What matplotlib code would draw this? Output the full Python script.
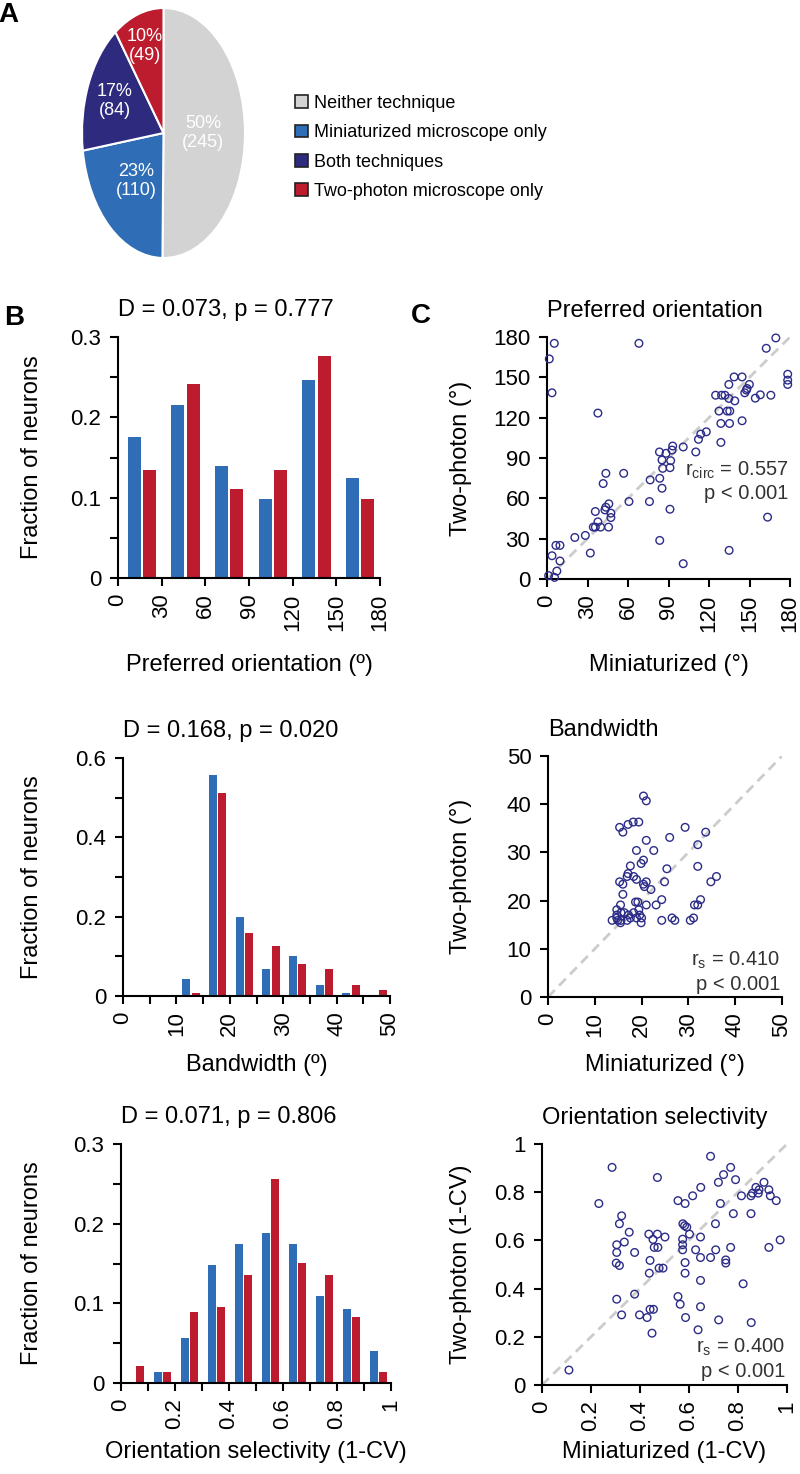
import matplotlib
matplotlib.use('Agg')
import matplotlib.pyplot as plt
from matplotlib.patches import Patch
from matplotlib.ticker import MultipleLocator
from matplotlib import font_manager
import numpy as np

plt.rcParams['font.family'] = ['Liberation Sans', 'DejaVu Sans']
plt.rcParams['mathtext.fontset'] = 'custom'
plt.rcParams['mathtext.rm'] = 'Liberation Sans'
plt.rcParams['mathtext.it'] = 'Liberation Sans:italic'

# ---------------- data ----------------
pie_labels = ['Neither technique', 'Miniaturized microscope only',
              'Both techniques', 'Two-photon microscope only']
pie_counts = [245, 110, 84, 49]

ori_edges = [0, 30, 60, 90, 120, 150, 180]
ori_mini = [0.176, 0.215, 0.140, 0.098, 0.247, 0.124]
ori_two = [0.134, 0.241, 0.111, 0.134, 0.276, 0.098]

bw_edges = [0, 5, 10, 15, 20, 25, 30, 35, 40, 45, 50]
bw_mini = [0, 0, 0.042, 0.557, 0.198, 0.068, 0.101, 0.028, 0.008, 0]
bw_two = [0, 0, 0.008, 0.512, 0.159, 0.126, 0.081, 0.068, 0.028, 0.015]

os_edges = [0, 0.1, 0.2, 0.3, 0.4, 0.5, 0.6, 0.7, 0.8, 0.9, 1.0]
os_mini = [0, 0.014, 0.057, 0.148, 0.175, 0.188, 0.174, 0.109, 0.093, 0.040]
os_two = [0.021, 0.014, 0.089, 0.096, 0.135, 0.256, 0.151, 0.135, 0.083, 0.014]

hist_titles = ['D = 0.073, p = 0.777', 'D = 0.168, p = 0.020', 'D = 0.071, p = 0.806']
hist_xlabels = ['Preferred orientation (º)', 'Bandwidth (º)', 'Orientation selectivity (1-CV)']

ori_ticks = [0, 30, 60, 90, 120, 150, 180]
ori_ticklabels = ['0', '30', '60', '90', '120', '150', '180']
bw_ticks = [0, 10, 20, 30, 40, 50]
bw_ticklabels = ['0', '10', '20', '30', '40', '50']
os_ticks = [0, 0.2, 0.4, 0.6, 0.8, 1.0]
os_ticklabels = ['0', '0.2', '0.4', '0.6', '0.8', '1']
frac03_ticks = [0, 0.1, 0.2, 0.3]
frac03_ticklabels = ['0', '0.1', '0.2', '0.3']
frac06_ticks = [0, 0.2, 0.4, 0.6]
frac06_ticklabels = ['0', '0.2', '0.4', '0.6']

# scatter: preferred orientation (miniaturized, two-photon)
po_x = [1.7, 5.4, 3.7, 68.1, 37.7, 162.4, 169.5, 178.3, 178.3, 178.3, 138.6, 144.5,
        134.7, 149.9, 148.2, 147.7, 146.5, 154.3, 158.0, 165.8, 124.9, 129.3, 131.8,
        134.7, 139.1, 127.4, 133.5, 135.4, 128.8, 135.2, 144.5, 128.8, 118.0, 113.9,
        112.2, 110.2, 100.9, 93.1, 92.6, 83.3, 88.2, 85.2, 91.6, 91.1, 85.7, 76.4,
        83.5, 85.2, 75.9, 60.7, 56.8, 43.6, 41.6, 91.1, 45.8, 43.6, 42.9, 47.3, 47.3,
        35.8, 37.7, 35.8, 39.7, 45.6, 34.3, 28.4, 20.6, 32.1, 83.5, 100.9, 134.9,
        163.4, 9.6, 6.6, 3.7, 9.6, 7.3, 1.2, 5.6]
po_y = [163.7, 175.3, 138.5, 175.3, 123.4, 171.6, 179.3, 152.3, 147.9, 144.7, 150.3,
        150.3, 144.7, 144.7, 141.7, 140.5, 138.5, 134.5, 137.0, 136.7, 136.7, 136.7,
        136.7, 134.3, 132.5, 124.9, 124.9, 124.9, 115.7, 115.7, 117.7, 101.6, 109.5,
        107.8, 103.9, 94.5, 98.2, 98.9, 95.9, 94.5, 93.5, 88.5, 88.0, 82.8, 82.3,
        73.7, 74.9, 67.5, 57.6, 57.6, 78.6, 78.6, 71.0, 51.9, 55.9, 53.4, 51.4, 49.0,
        45.7, 50.2, 42.5, 38.6, 38.6, 38.6, 38.6, 32.4, 30.9, 19.3, 28.7, 11.4, 21.3,
        46.0, 25.0, 25.0, 17.3, 13.4, 5.9, 2.5, 1.2]

# scatter: bandwidth
bw_x = [20.4, 21.0, 15.3, 16.0, 17.1, 18.2, 19.4, 29.3, 33.7, 21.0, 26.0, 18.9, 22.6,
        32.0, 20.4, 19.9, 17.6, 32.0, 25.4, 17.1, 16.9, 18.3, 18.9, 36.0, 34.8, 24.9,
        21.0, 20.4, 20.6, 22.0, 15.3, 16.0, 16.0, 24.3, 23.1, 21.0, 18.7, 19.2, 15.5,
        32.6, 31.3, 32.0, 14.7, 15.6, 14.7, 16.3, 17.2, 18.3, 19.4, 19.6, 18.9, 17.6,
        15.6, 13.7, 14.9, 15.5, 16.9, 20.0, 19.9, 24.3, 26.5, 27.1, 30.4, 31.1, 14.7]
bw_y = [41.7, 40.7, 35.2, 34.2, 35.8, 36.3, 36.3, 35.2, 34.2, 32.5, 33.1, 30.4, 30.4,
        31.6, 28.4, 27.7, 27.2, 27.1, 26.6, 25.6, 25.0, 25.0, 24.4, 25.0, 23.9, 23.9,
        23.9, 23.4, 22.9, 22.3, 23.9, 23.4, 21.3, 20.2, 19.1, 19.1, 19.7, 19.7, 19.1,
        20.2, 19.1, 19.1, 18.1, 17.5, 17.0, 17.5, 17.0, 17.5, 18.1, 17.0, 16.4, 16.4,
        15.9, 15.9, 15.9, 15.4, 15.9, 16.4, 15.4, 15.9, 16.4, 15.9, 15.9, 16.4, 16.4]

# scatter: orientation selectivity
os_x = [0.110, 0.286, 0.232, 0.471, 0.688, 0.770, 0.741, 0.720, 0.790, 0.906, 0.873,
        0.886, 0.926, 0.648, 0.615, 0.814, 0.853, 0.859, 0.883, 0.932, 0.956, 0.555,
        0.584, 0.728, 0.853, 0.781, 0.325, 0.316, 0.708, 0.575, 0.582, 0.591, 0.356,
        0.436, 0.471, 0.602, 0.647, 0.502, 0.574, 0.453, 0.336, 0.305, 0.574, 0.972,
        0.926, 0.770, 0.458, 0.473, 0.709, 0.305, 0.378, 0.574, 0.627, 0.647, 0.688,
        0.750, 0.750, 0.441, 0.584, 0.303, 0.316, 0.478, 0.494, 0.438, 0.584, 0.647,
        0.821, 0.378, 0.555, 0.564, 0.305, 0.647, 0.441, 0.455, 0.325, 0.398, 0.429,
        0.586, 0.721, 0.854, 0.637, 0.449]
os_y = [0.062, 0.903, 0.753, 0.861, 0.949, 0.903, 0.873, 0.841, 0.852, 0.841, 0.820,
        0.810, 0.810, 0.820, 0.785, 0.785, 0.785, 0.796, 0.796, 0.785, 0.765, 0.765,
        0.753, 0.753, 0.711, 0.711, 0.702, 0.669, 0.669, 0.669, 0.661, 0.655, 0.634,
        0.626, 0.626, 0.626, 0.614, 0.614, 0.605, 0.604, 0.593, 0.582, 0.582, 0.602,
        0.571, 0.571, 0.571, 0.571, 0.561, 0.550, 0.550, 0.561, 0.561, 0.529, 0.529,
        0.519, 0.506, 0.517, 0.508, 0.506, 0.496, 0.485, 0.485, 0.464, 0.464, 0.434,
        0.420, 0.377, 0.367, 0.335, 0.356, 0.325, 0.314, 0.314, 0.291, 0.291, 0.280,
        0.280, 0.270, 0.259, 0.229, 0.215]

scatter_titles = ['Preferred orientation', 'Bandwidth', 'Orientation selectivity']
scatter_xlabels = ['Miniaturized (°)', 'Miniaturized (°)', 'Miniaturized (1-CV)']
scatter_ylabels = ['Two-photon (°)', 'Two-photon (°)', 'Two-photon (1-CV)']
scatter_stats = [('r$_{\\mathregular{circ}}$ = 0.557', 'p < 0.001'),
                 ('r$_{\\mathregular{s}}$ = 0.410', 'p < 0.001'),
                 ('r$_{\\mathregular{s}}$ = 0.400', 'p < 0.001')]

# ---------------- style ----------------
C_GRAY = '#D3D3D3'
C_BLUE = '#2F6EB6'
C_NAVY = '#2E2B7E'
C_RED = '#BC1C2E'
C_PT = '#2C2C88'

_names = {f.name for f in font_manager.fontManager.ttflist}
if 'Liberation Sans Narrow' in _names:
    NARROW = ['Liberation Sans Narrow', 'Liberation Sans']
    LEG_SIZE, PIE_SIZE = 14.5, 14.5
else:
    NARROW = ['Liberation Sans', 'DejaVu Sans']
    LEG_SIZE, PIE_SIZE = 13, 13

W, H = 800, 1474
fig = plt.figure(figsize=(W / 100, H / 100), dpi=100)


def px_axes(l, t, r, b):
    return fig.add_axes([l / W, 1 - b / H, (r - l) / W, (b - t) / H])


def style_axes(ax):
    for s in ('top', 'right'):
        ax.spines[s].set_visible(False)
    for s in ('left', 'bottom'):
        ax.spines[s].set_linewidth(1.5)
    ax.tick_params(which='both', direction='out', length=6, width=1.5,
                   labelsize=16, pad=5)
    ax.tick_params(axis='y', which='both', pad=6)


def place_labels(ax, l, t, r, b, xl_y, yl_x):
    w, h = r - l, b - t
    ax.xaxis.set_label_coords(0.5, (b - xl_y) / h)
    ax.xaxis.label.set_va('center')
    ax.yaxis.set_label_coords((yl_x - l) / w, 0.5)
    ax.yaxis.label.set_va('center')


# ---------------- panel A: pie ----------------
axp = px_axes(82, 8, 245, 258)
total = sum(pie_counts)
wedges, _texts, autotexts = axp.pie(
    pie_counts, colors=[C_GRAY, C_BLUE, C_NAVY, C_RED], startangle=90,
    counterclock=False, radius=1,
    autopct=lambda p: '%.0f%%\n(%d)' % (p, round(p * total / 100)),
    wedgeprops=dict(edgecolor='white', linewidth=1.5),
    textprops=dict(color='white', fontsize=PIE_SIZE, linespacing=1.15, family=NARROW))
axp.set_aspect('auto')
axp.set_xlim(-1, 1)
axp.set_ylim(-1, 1)
label_r = [0.49, 0.51, 0.65, 0.73]
for wdg, txt, rr in zip(wedges, autotexts, label_r):
    ang = np.deg2rad((wdg.theta1 + wdg.theta2) / 2)
    txt.set_position((rr * np.cos(ang), rr * np.sin(ang)))
    txt.set_ha('center')
    txt.set_va('center')

handles = [Patch(facecolor=c, edgecolor='#222222', linewidth=1.2)
           for c in (C_GRAY, C_BLUE, C_NAVY, C_RED)]
fs_px = LEG_SIZE * 100 / 72
fig.legend(handles, pie_labels, loc='upper left',
           bbox_to_anchor=(295 / W, 1 - 95 / H), bbox_transform=fig.transFigure,
           frameon=False, borderpad=0, borderaxespad=0,
           handlelength=13 / fs_px, handleheight=13 / fs_px,
           handletextpad=6 / fs_px, labelspacing=0.68,
           prop=dict(family=NARROW, size=LEG_SIZE))

fig.text(8 / W, 1 - 15 / H, 'A', fontsize=20, fontweight='bold', ha='center', va='center')
fig.text(14 / W, 1 - 318 / H, 'B', fontsize=20, fontweight='bold', ha='center', va='center')
fig.text(421 / W, 1 - 316 / H, 'C', fontsize=20, fontweight='bold', ha='center', va='center')

# ---------------- panel B: histograms ----------------
hist_boxes = [(118, 337, 380, 578, 665), (123, 758, 390, 996, 1065), (121, 1144, 391, 1383, 1452)]
hist_data = [(ori_edges, ori_mini, ori_two, ori_ticks, ori_ticklabels, None,
              frac03_ticks, frac03_ticklabels, 0.05),
             (bw_edges, bw_mini, bw_two, bw_ticks, bw_ticklabels, 5,
              frac06_ticks, frac06_ticklabels, 0.1),
             (os_edges, os_mini, os_two, os_ticks, os_ticklabels, 0.1,
              frac03_ticks, frac03_ticklabels, 0.05)]

for i, ((l, t, r, b, xly), (edges, mini, two, xt, xtl, xminor, yt, ytl, yminor)) in \
        enumerate(zip(hist_boxes, hist_data)):
    ax = px_axes(l, t, r, b)
    edges = np.asarray(edges, dtype=float)
    bw = edges[1] - edges[0]
    starts = edges[:-1]
    ax.bar(starts + 0.22 * bw, mini, width=0.30 * bw, align='edge', color=C_BLUE, linewidth=0)
    ax.bar(starts + 0.57 * bw, two, width=0.30 * bw, align='edge', color=C_RED, linewidth=0)
    ax.set_xlim(edges[0], edges[-1])
    ax.set_ylim(yt[0], yt[-1])
    style_axes(ax)
    ax.set_xticks(xt, xtl, rotation=90)
    ax.set_yticks(yt, ytl)
    if xminor:
        ax.xaxis.set_minor_locator(MultipleLocator(xminor))
    ax.yaxis.set_minor_locator(MultipleLocator(yminor))
    ax.set_xlabel(hist_xlabels[i], fontsize=17)
    ax.set_ylabel('Fraction of neurons', fontsize=17)
    place_labels(ax, l, t, r, b, xly, 32)
    ax.text(0, 1 + 27 / (b - t), hist_titles[i], transform=ax.transAxes,
            ha='left', va='center', fontsize=17)

# ---------------- panel C: scatters ----------------
sc_boxes = [(547, 337, 790, 579, 665), (548, 756, 782, 997, 1065), (542, 1144, 787, 1385, 1452)]
sc_data = [(po_x, po_y, ori_ticks, ori_ticklabels),
           (bw_x, bw_y, bw_ticks, bw_ticklabels),
           (os_x, os_y, os_ticks, os_ticklabels)]
stat_y = [(0.45, 0.355), (0.154, 0.05), (0.158, 0.054)]

for i, ((l, t, r, b, xly), (xs, ys, tk, tkl)) in enumerate(zip(sc_boxes, sc_data)):
    ax = px_axes(l, t, r, b)
    lo, hi = tk[0], tk[-1]
    ax.plot([lo, hi], [lo, hi], color='#CCCCCC', lw=2.0, ls=(0, (3.5, 2.2)), zorder=1)
    ax.scatter(xs, ys, s=30, facecolors='none', edgecolors=C_PT, linewidths=1.0,
               zorder=3, clip_on=False)
    ax.set_xlim(lo, hi)
    ax.set_ylim(lo, hi)
    style_axes(ax)
    ax.set_xticks(tk, tkl, rotation=90)
    ax.set_yticks(tk, tkl)
    ax.set_xlabel(scatter_xlabels[i], fontsize=17)
    ax.set_ylabel(scatter_ylabels[i], fontsize=17)
    place_labels(ax, l, t, r, b, xly, 461)
    ax.text(0, 1 + 26 / (b - t), scatter_titles[i], transform=ax.transAxes,
            ha='left', va='center', fontsize=17)
    s1, s2 = scatter_stats[i]
    ax.text(1 - 2 / (r - l), stat_y[i][0], s1, transform=ax.transAxes, ha='right',
            va='center', fontsize=14.5, color='#333333')
    ax.text(1 - 2 / (r - l), stat_y[i][1], s2, transform=ax.transAxes, ha='right',
            va='center', fontsize=14.5, color='#333333')

fig.savefig('out.png', dpi=100)
